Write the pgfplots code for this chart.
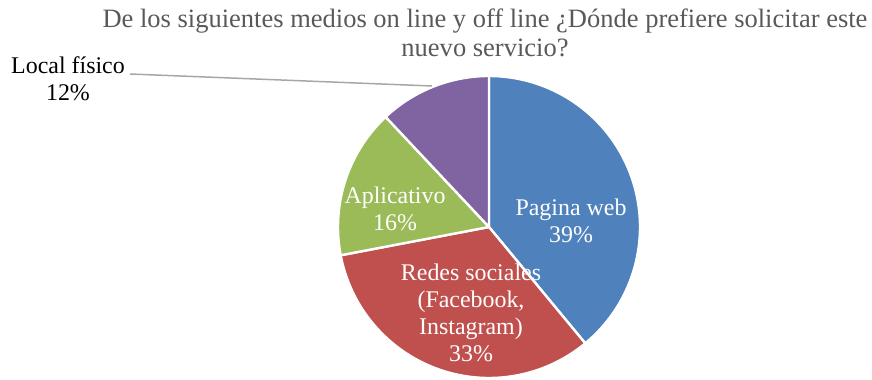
\documentclass[border=0pt]{standalone}
\usepackage{fontspec}
\setmainfont{Liberation Serif}
\usepackage{pgfplots}
\usepackage{pgfplotstable}
\pgfplotsset{compat=1.18}
\definecolor{cweb}{HTML}{4F81BD}
\definecolor{cred}{HTML}{C0504D}
\definecolor{capp}{HTML}{9BBB59}
\definecolor{cloc}{HTML}{8064A2}
\definecolor{ctitle}{HTML}{595959}
\definecolor{cline}{HTML}{A6A6A6}
\pgfplotstableread{
label value
web 39
redes 33
app 16
local 12
}\piedata
\tikzset{lbl/.style={font=\fontsize{24}{27}\selectfont, align=center, anchor=base, inner sep=0pt}}
\begin{document}
\begin{tikzpicture}
\useasboundingbox (0,0) rectangle (872bp,380bp);
\pgfplotstablegetelem{0}{value}\of\piedata \pgfmathsetmacro\vA{\pgfplotsretval}
\pgfplotstablegetelem{1}{value}\of\piedata \pgfmathsetmacro\vB{\pgfplotsretval}
\pgfplotstablegetelem{2}{value}\of\piedata \pgfmathsetmacro\vC{\pgfplotsretval}
\pgfplotstablegetelem{3}{value}\of\piedata \pgfmathsetmacro\vD{\pgfplotsretval}
\pgfmathsetmacro\aA{90}
\pgfmathsetmacro\aB{\aA-3.6*\vA}
\pgfmathsetmacro\aC{\aB-3.6*\vB}
\pgfmathsetmacro\aD{\aC-3.6*\vC}
\pgfmathsetmacro\aE{\aD-3.6*\vD}
\begin{axis}[
  width=872bp, height=380bp, scale only axis,
  xmin=0, xmax=872, ymin=0, ymax=380,
  hide axis, clip=false,
]
\addplot[fill=cweb, draw=white, line width=2.4pt, line join=round, domain=\aB:\aA, samples=80, variable=\t]
  ({489+151*cos(t)},{153+151*sin(t)}) -- (axis cs:489,153) -- cycle;
\addplot[fill=cred, draw=white, line width=2.4pt, line join=round, domain=\aC:\aB, samples=80, variable=\t]
  ({489+151*cos(t)},{153+151*sin(t)}) -- (axis cs:489,153) -- cycle;
\addplot[fill=capp, draw=white, line width=2.4pt, line join=round, domain=\aD:\aC, samples=60, variable=\t]
  ({489+151*cos(t)},{153+151*sin(t)}) -- (axis cs:489,153) -- cycle;
\addplot[fill=cloc, draw=white, line width=2.4pt, line join=round, domain=\aE:\aD, samples=60, variable=\t]
  ({489+151*cos(t)},{153+151*sin(t)}) -- (axis cs:489,153) -- cycle;
% leader line
\addplot[cline, line width=1.5pt, mark=none] coordinates {(130,306) (432,294)};
% labels (anchored at the baseline of the last line)
\node[lbl, white] at (axis cs:571,138) {Pagina web\\39\%};
\node[lbl, white] at (axis cs:471,19) {Redes sociales\\(Facebook,\\Instagram)\\33\%};
\node[lbl, white] at (axis cs:395,150) {Aplicativo\\16\%};
\node[lbl, black] at (axis cs:68,280) {Local físico\\12\%};
% title
\node[lbl, text=ctitle, font=\fontsize{26.6}{30}\selectfont] at (axis cs:485,323) {De los siguientes medios on line y off line ¿Dónde prefiere solicitar este\\nuevo servicio?};
\end{axis}
\end{tikzpicture}
\end{document}
